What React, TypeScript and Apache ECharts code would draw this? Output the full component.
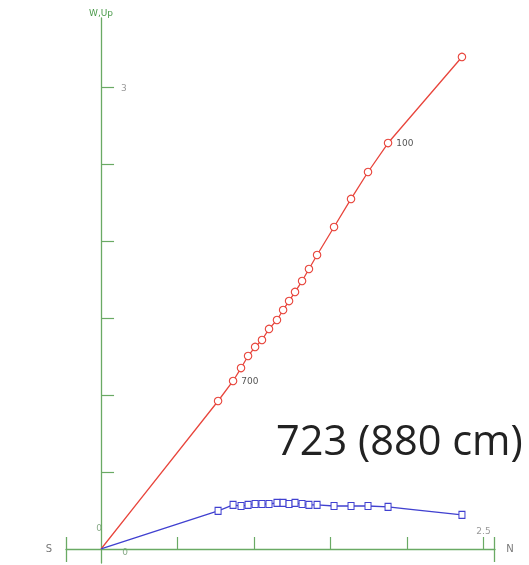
import React, { useEffect, useRef } from "react";
import * as echarts from "echarts";

const nValues = [0, 0.765, 0.863, 0.915, 0.961, 1.007, 1.052, 1.098, 1.15, 1.19, 1.229, 1.268, 1.314, 1.359, 1.412, 1.523, 1.634, 1.745, 1.876, 2.359];
const wValues = [0, 0.961, 1.091, 1.175, 1.253, 1.312, 1.357, 1.429, 1.487, 1.552, 1.61, 1.669, 1.74, 1.818, 1.909, 2.091, 2.273, 2.448, 2.636, 3.195];
const upValues = [0, 0.247, 0.286, 0.279, 0.286, 0.292, 0.292, 0.292, 0.299, 0.299, 0.292, 0.299, 0.292, 0.286, 0.286, 0.279, 0.279, 0.279, 0.273, 0.221];
const pointTags = ["", "", "700", "", "", "", "", "", "", "", "", "", "", "", "", "", "", "", "100", ""];
const xTickValues = [0.5, 1, 1.5, 2, 2.5];
const xLabelValues = [2.5];
const yTickValues = [0.5, 1, 1.5, 2, 2.5, 3];
const yLabelValues = [3];
const xRange = [-0.229, 2.575];
const yRange = [-0.091, 3.448];
const titleText = "723 (880 cm)";

const GREEN = "#6aaa64";
const RED = "#e8453c";
const BLUE = "#4040d0";

export default function App() {
  const ref = useRef<HTMLDivElement>(null);
  useEffect(() => {
    if (!ref.current) return;
    const chart = echarts.init(ref.current, null, { renderer: "svg" });
    const redData = nValues.map((x, i) => ({
      value: [x, wValues[i]],
      symbol: i === 0 ? "none" : "circle",
      label: pointTags[i]
        ? { show: true, position: "right", formatter: pointTags[i], color: "#555", fontSize: 9, distance: 4, fontFamily: "DejaVu Sans" }
        : { show: false },
    }));
    const blueData = nValues.map((x, i) => ({
      value: [x, upValues[i]],
      symbol: i === 0 ? "none" : "rect",
    }));
    chart.setOption({
      animation: false,
      grid: { left: 66, top: 18, width: 429, height: 545, outerBoundsMode: "none" },
      xAxis: {
        type: "value",
        min: xRange[0],
        max: xRange[1],
        axisLine: { onZero: true, lineStyle: { color: GREEN, width: 1.3 } },
        axisTick: { inside: true, length: 12, customValues: xTickValues, lineStyle: { color: GREEN, width: 1.2 } },
        axisLabel: { show: false },
        splitLine: { show: false },
      },
      yAxis: {
        type: "value",
        min: yRange[0],
        max: yRange[1],
        axisLine: { onZero: true, lineStyle: { color: GREEN, width: 1.3 } },
        axisTick: { inside: true, length: 13, customValues: yTickValues, lineStyle: { color: GREEN, width: 1.2 } },
        axisLabel: { show: false },
        splitLine: { show: false },
      },
      series: [
        {
          type: "line",
          data: redData,
          symbolSize: 7.5,
          lineStyle: { color: RED, width: 1.3 },
          itemStyle: { color: "#fff", borderColor: RED, borderWidth: 1.1 },
          z: 3,
        },
        {
          type: "line",
          data: blueData,
          symbolSize: [6, 7],
          lineStyle: { color: BLUE, width: 1.3 },
          itemStyle: { color: "#fff", borderColor: BLUE, borderWidth: 1.1 },
          z: 3,
        },
      ],
    });
    const px = (p: number[]) => chart.convertToPixel({ gridIndex: 0 }, p) as number[];
    const o = px([0, 0]);
    const sEnd = px([xRange[0], 0]);
    const nEnd = px([xRange[1], 0]);
    const top = px([0, yRange[1]]);
    const small = { fontSize: 9, fontFamily: "DejaVu Sans" };
    const xLabels = xLabelValues.map((v) => {
      const p = px([v, 0]);
      return { type: "text", x: p[0], y: p[1] - 18, style: { text: String(v), fill: "#999", ...small, align: "center", verticalAlign: "middle" } };
    });
    const yLabels = yLabelValues.map((v) => {
      const p = px([0, v]);
      return { type: "text", x: p[0] + 20, y: p[1] + 1, style: { text: String(v), fill: "#999", ...small, align: "left", verticalAlign: "middle" } };
    });
    chart.setOption({
      graphic: [
        { type: "line", shape: { x1: sEnd[0] + 0.5, y1: o[1] - 12, x2: sEnd[0] + 0.5, y2: o[1] + 13 }, style: { stroke: GREEN, lineWidth: 1.3 } },
        { type: "line", shape: { x1: nEnd[0] - 0.5, y1: o[1] - 12, x2: nEnd[0] - 0.5, y2: o[1] + 13 }, style: { stroke: GREEN, lineWidth: 1.3 } },
        { type: "text", x: sEnd[0] - 17, y: o[1], style: { text: "S", fill: "#777", fontSize: 10, fontFamily: "DejaVu Sans", align: "center", verticalAlign: "middle" } },
        { type: "text", x: nEnd[0] + 15, y: o[1], style: { text: "N", fill: "#777", fontSize: 10, fontFamily: "DejaVu Sans", align: "center", verticalAlign: "middle" } },
        { type: "text", x: top[0], y: top[1] - 1, style: { text: "W,Up", fill: "#4a9a4a", ...small, align: "center", verticalAlign: "bottom" } },
        { type: "text", x: o[0] - 2, y: o[1] - 21, style: { text: "0", fill: "#8a8", ...small, align: "center", verticalAlign: "middle" } },
        { type: "text", x: o[0] + 24, y: o[1] + 3, style: { text: "0", fill: "#8a8", ...small, align: "center", verticalAlign: "middle" } },
        ...xLabels,
        ...yLabels,
        { type: "text", x: 276, y: 418, style: { text: titleText, fill: "#222", fontSize: 41.5, fontFamily: "Open Sans", align: "left", verticalAlign: "top" } },
      ],
    });
    return () => chart.dispose();
  }, []);
  return <div ref={ref} style={{ position: "fixed", left: 0, top: 0, width: 529, height: 565 }} />;
}
